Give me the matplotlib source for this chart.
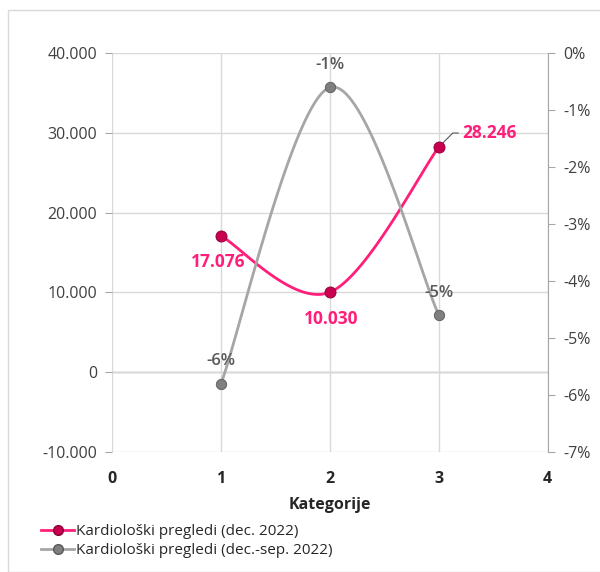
import numpy as np
import matplotlib.pyplot as plt
from matplotlib.ticker import FuncFormatter

plt.rcParams['font.family'] = ['Open Sans', 'DejaVu Sans']

categories = [1, 2, 3]
pregledi_dec = [17076, 10030, 28246]            # lijeva os
promjena_dec_sep = [-0.058, -0.006, -0.046]     # desna os (udio)
labels_dec = ['17.076', '10.030', '28.246']
labels_pct = ['-6%', '-1%', '-5%']

pink = '#FF1F7A'
pink_marker = '#C8004F'
gray = '#A6A6A6'
gray_marker = '#7F7F7F'
txt = '#404040'


def smooth(x, y, n=60, t=1/6):
    # bezier kao u Excelu (glatka linija)
    x = np.asarray(x, float)
    y = np.asarray(y, float)
    xs, ys = [], []
    for i in range(len(x) - 1):
        p0 = np.array([x[max(i - 1, 0)], y[max(i - 1, 0)]])
        p1 = np.array([x[i], y[i]])
        p2 = np.array([x[i + 1], y[i + 1]])
        p3 = np.array([x[min(i + 2, len(x) - 1)], y[min(i + 2, len(x) - 1)]])
        c1 = p1 + (p2 - p0) * t
        c2 = p2 - (p3 - p1) * t
        s = np.linspace(0, 1, n)[:, None]
        b = (1 - s) ** 3 * p1 + 3 * (1 - s) ** 2 * s * c1 + 3 * (1 - s) * s ** 2 * c2 + s ** 3 * p2
        xs.extend(b[:, 0])
        ys.extend(b[:, 1])
    return np.array(xs), np.array(ys)


fig = plt.figure(figsize=(6, 5.72), dpi=100)
fig.add_artist(plt.Rectangle((0.013, 0.0), 0.99, 0.983, transform=fig.transFigure,
                             fill=False, edgecolor='#D9D9D9', linewidth=1))
ax = fig.add_axes([0.187, 0.21, 0.726, 0.697])
ax2 = ax.twinx()

ax.set_xlim(0, 4)
ax.set_ylim(-10000, 40000)
ax2.set_ylim(-0.07, 0)
ax.set_xticks([0, 1, 2, 3, 4])
ax.set_yticks(np.arange(-10000, 40001, 10000))
ax2.set_yticks(np.arange(-0.07, 0.0001, 0.01))
ax.yaxis.set_major_formatter(FuncFormatter(lambda v, p: f'{v:,.0f}'.replace(',', '.')))
ax2.yaxis.set_major_formatter(FuncFormatter(lambda v, p: f'{round(v * 100):d}%'))

ax.grid(True, color='#D9D9D9', linewidth=1)
ax.axhline(0, color='#A6A6A6', linewidth=1, zorder=1)
for a in (ax, ax2):
    for s in a.spines.values():
        s.set_visible(False)
ax2.spines['right'].set_visible(True)
ax2.spines['right'].set_color('#A6A6A6')
ax.tick_params(axis='y', length=5, color='#A6A6A6', labelsize=11.5, labelcolor=txt, pad=6)
ax2.tick_params(axis='y', length=5, color='#A6A6A6', labelsize=11.5, labelcolor=txt, pad=6)
ax.tick_params(axis='x', length=0, labelsize=11.5, labelcolor='#262626', pad=14)
for lab in ax.get_xticklabels():
    lab.set_fontweight('bold')
ax.set_xlabel('Kategorije', fontsize=11.5, fontweight='bold', color='#262626', labelpad=7)

sx, sy = smooth(categories, pregledi_dec)
ax.plot(sx, sy, color=pink, linewidth=2, zorder=3)
ax.plot(categories, pregledi_dec, 'o', color=pink_marker, markersize=8,
        markeredgecolor='#8C0038', markeredgewidth=0.6, zorder=4)

gx, gy = smooth(categories, promjena_dec_sep)
ax2.plot(gx, gy, color=gray, linewidth=2, zorder=3)
ax2.plot(categories, promjena_dec_sep, 'o', color=gray_marker, markersize=7.5,
         markeredgecolor='#595959', markeredgewidth=0.6, zorder=4)

# oznake vrijednosti
for i, dx in ((0, -2), (1, 1)):
    ax.annotate(labels_dec[i], (categories[i], pregledi_dec[i]), xytext=(dx, -19),
                textcoords='offset points', ha='center', va='center',
                color=pink, fontsize=12.5, fontweight='bold')
ax.annotate(labels_dec[2], (categories[2], pregledi_dec[2]), xytext=(17, 10),
            textcoords='offset points', ha='left', va='center', color=pink,
            fontsize=12.5, fontweight='bold',
            arrowprops=dict(arrowstyle='-', color='#595959', linewidth=0.8,
                            shrinkA=1, shrinkB=4,
                            connectionstyle='angle,angleA=0,angleB=45,rad=0'))
for x, v, lab in zip(categories, promjena_dec_sep, labels_pct):
    ax2.annotate(lab, (x, v), xytext=(0, 16), textcoords='offset points', ha='center',
                 va='center', color='#595959', fontsize=12, fontweight='semibold')

ax2.set_zorder(ax.get_zorder() + 1)
ax.patch.set_visible(False)

hp, = plt.plot([], [], color=pink, linewidth=2, marker='o', markersize=7,
               markerfacecolor=pink_marker, markeredgecolor='#8C0038')
hg, = plt.plot([], [], color=gray, linewidth=2, marker='o', markersize=7,
               markerfacecolor=gray_marker, markeredgecolor='#595959')
fig.legend([hp, hg], ['Kardiološki pregledi (dec. 2022)', 'Kardiološki pregledi (dec.-sep. 2022)'],
           loc='lower left', bbox_to_anchor=(0.045, 0.0), frameon=False, fontsize=11,
           handlelength=2.2, handletextpad=0.1, labelspacing=0.25, labelcolor='#262626')

fig.savefig('out.png', dpi=100)
